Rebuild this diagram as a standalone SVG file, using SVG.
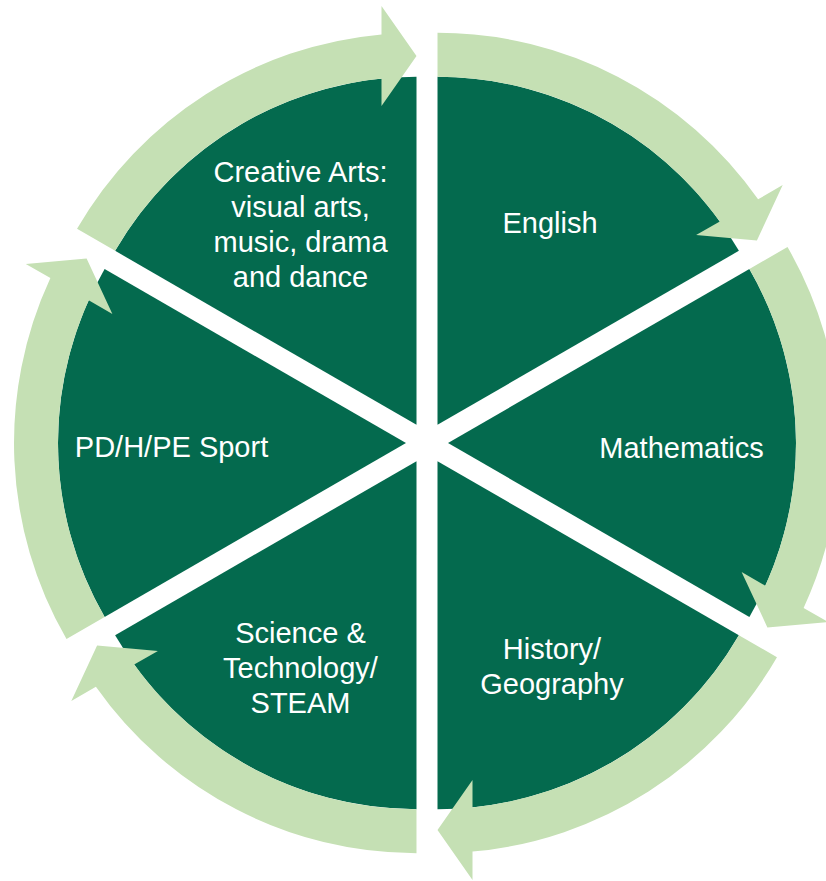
<svg xmlns="http://www.w3.org/2000/svg" xmlns:xlink="http://www.w3.org/1999/xlink" width="826" height="881" viewBox="0 0 826 881">
  <style>
    .seg { fill: #046A4E; }
    .arr { fill: #C5E0B4; }
    .lbl { fill: #FFFFFF; font-family: "Liberation Sans", Arial, sans-serif; font-size: 29px; text-anchor: middle; }
  </style>
  <defs>
    <path id="sector" d="M416.5,424.8 L115.13,250.8 A348,348 0 0 1 416.5,76.8 Z"/>
    <path id="arrow" d="M77.02,228.8 A392,392 0 0 1 381.5,34.4 L381.5,6 L416.5,56 L381.5,106 L381.5,78.6 A348,348 0 0 0 115.13,250.8 Z"/>
  </defs>
  <rect width="826" height="881" fill="#FFFFFF"/>

  <g id="node-creative-arts">
    <use xlink:href="#sector" class="seg"/>
    <text class="lbl" x="300.5" y="182">Creative Arts:</text>
    <text class="lbl" x="300.5" y="217">visual arts,</text>
    <text class="lbl" x="300.5" y="252">music, drama</text>
    <text class="lbl" x="300.5" y="287">and dance</text>
  </g>
  <g id="node-english">
    <use xlink:href="#sector" class="seg" transform="rotate(60 427 443)"/>
    <text class="lbl" x="550" y="233">English</text>
  </g>
  <g id="node-mathematics">
    <use xlink:href="#sector" class="seg" transform="rotate(120 427 443)"/>
    <text class="lbl" x="681.5" y="458">Mathematics</text>
  </g>
  <g id="node-history-geography">
    <use xlink:href="#sector" class="seg" transform="rotate(180 427 443)"/>
    <text class="lbl" x="552" y="659">History/</text>
    <text class="lbl" x="552" y="694">Geography</text>
  </g>
  <g id="node-science-technology">
    <use xlink:href="#sector" class="seg" transform="rotate(240 427 443)"/>
    <text class="lbl" x="300.5" y="643">Science &amp;</text>
    <text class="lbl" x="300.5" y="678">Technology/</text>
    <text class="lbl" x="300.5" y="713">STEAM</text>
  </g>
  <g id="node-pdhpe-sport">
    <use xlink:href="#sector" class="seg" transform="rotate(300 427 443)"/>
    <text class="lbl" x="171.5" y="457">PD/H/PE Sport</text>
  </g>

  <g id="connectors">
    <use xlink:href="#arrow" class="arr"/>
    <use xlink:href="#arrow" class="arr" transform="rotate(60 427 443)"/>
    <use xlink:href="#arrow" class="arr" transform="rotate(120 427 443)"/>
    <use xlink:href="#arrow" class="arr" transform="rotate(180 427 443)"/>
    <use xlink:href="#arrow" class="arr" transform="rotate(240 427 443)"/>
    <use xlink:href="#arrow" class="arr" transform="rotate(300 427 443)"/>
  </g>
</svg>
